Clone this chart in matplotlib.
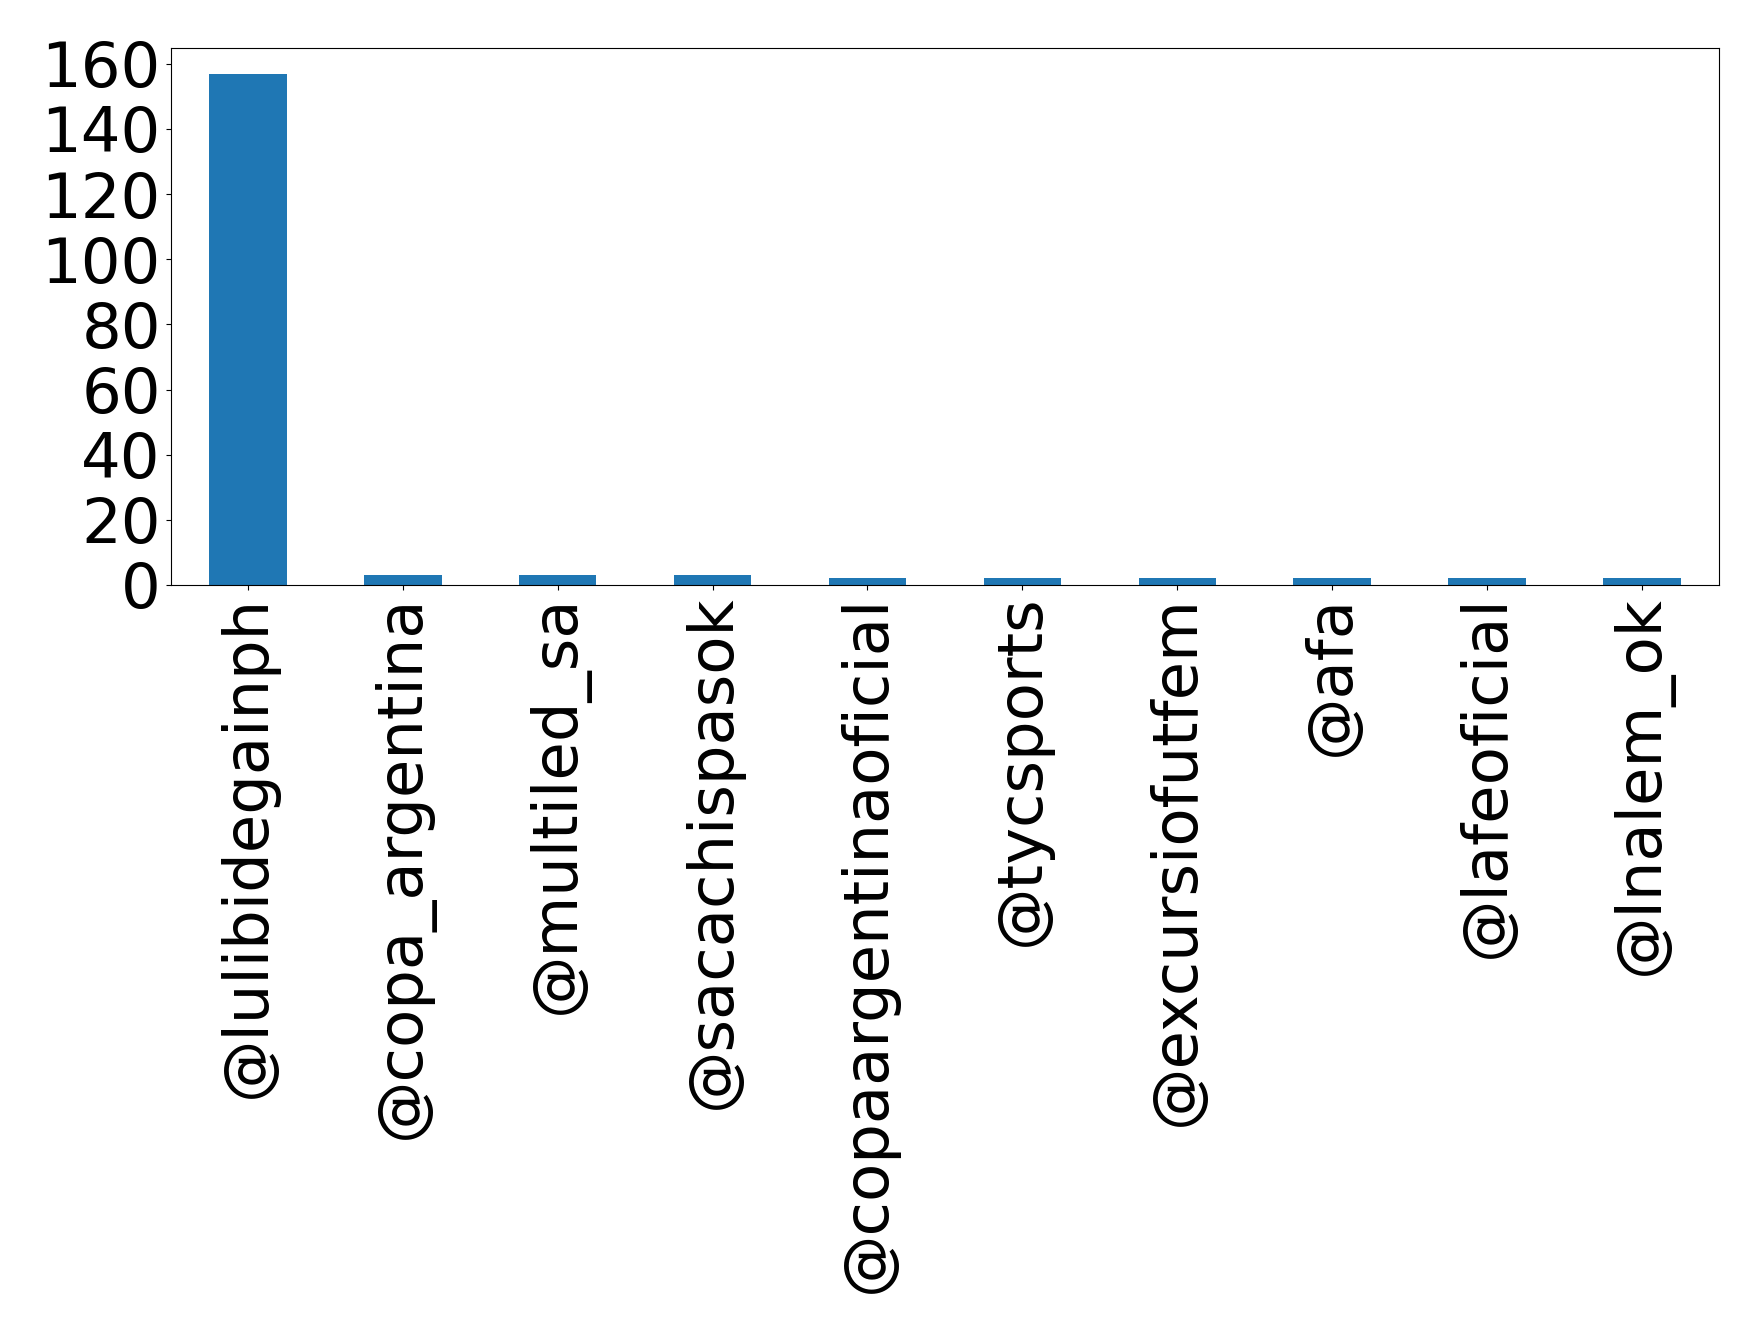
import matplotlib
matplotlib.use("Agg")
import matplotlib.pyplot as plt
from matplotlib.ticker import MultipleLocator
import pandas as pd

usuarios = ['@lulibidegainph', '@copa_argentina', '@multiled_sa', '@sacachispasok',
            '@copaargentinaoficial', '@tycsports', '@excursiofutfem', '@afa',
            '@lafeoficial', '@lnalem_ok']
menciones = [157, 3, 3, 3, 2, 2, 2, 2, 2, 2]

serie = pd.Series(menciones, index=usuarios)

fig = plt.figure(figsize=(17.58, 13.34), dpi=100)
ax = fig.add_axes([0.097, 0.5615, 0.881, 0.4025])
serie.plot(kind='bar', ax=ax, color='#1f77b4')

ax.yaxis.set_major_locator(MultipleLocator(20))
ax.tick_params(axis='both', labelsize=45)
plt.setp(ax.get_xticklabels(), rotation=90)

fig.savefig('out.png')
plt.close(fig)
